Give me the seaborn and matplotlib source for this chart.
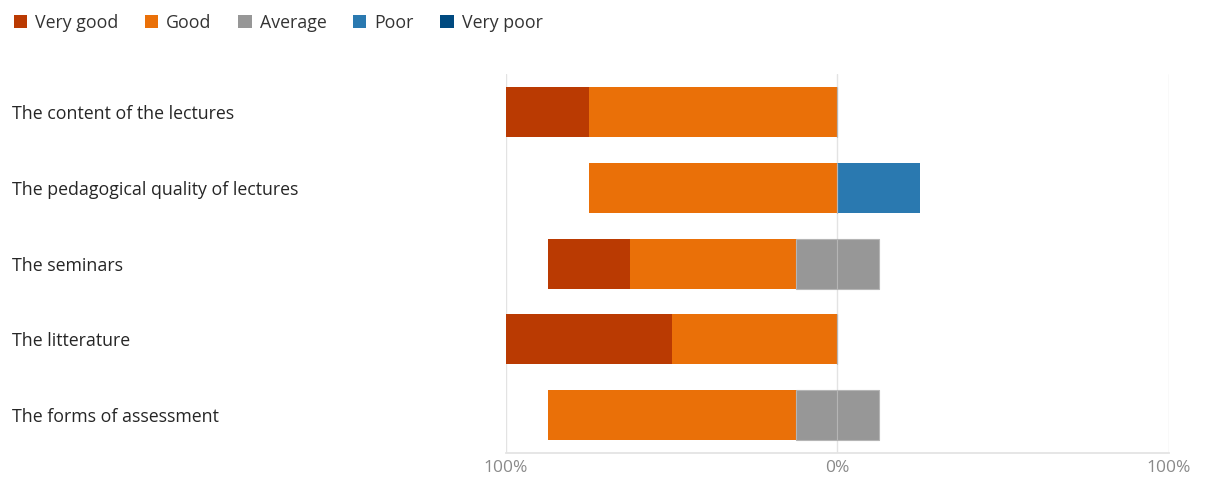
import pandas as pd
import matplotlib.pyplot as plt
import seaborn as sns
from matplotlib.patches import Patch

# Survey answers, percent of respondents per item
items = [
    "The content of the lectures",
    "The pedagogical quality of lectures",
    "The seminars",
    "The litterature",
    "The forms of assessment",
]
very_good = [25, 0, 25, 50, 0]
good = [75, 75, 50, 50, 75]
average = [0, 0, 25, 0, 25]
poor = [0, 25, 0, 0, 0]
very_poor = [0, 0, 0, 0, 0]

categories = ["Very good", "Good", "Average", "Poor", "Very poor"]
colors = ["#BA3A02", "#EA7008", "#979797", "#2A79B0", "#004A80"]
tick_vals = [-100, 0, 100]
tick_labels = ["100%", "0%", "100%"]


def main():
    sns.set_theme(style="white")
    plt.rcParams["font.family"] = ["Open Sans", "DejaVu Sans"]

    df = pd.DataFrame({"item": items, "vg": very_good, "g": good,
                       "a": average, "p": poor, "vp": very_poor})

    # cumulative ends of each segment, diverging around the middle of "Average"
    layers = [
        (-(df.vg + df.g + df.a / 2), colors[0]),
        (-(df.g + df.a / 2), colors[1]),
        (df.a / 2 + df.p + df.vp, colors[4]),
        (df.a / 2 + df.p, colors[3]),
        (-(df.a / 2), colors[2]),
        (df.a / 2, colors[2]),
    ]

    fig = plt.figure(figsize=(12.05, 4.78), dpi=100)
    ax = fig.add_axes([0.42, 0.052, 0.55, 0.793])

    for i, (vals, col) in enumerate(layers):
        tmp = pd.DataFrame({"item": items, "val": vals})
        # the two halves of "Average" get a faint seam at 0
        lw = 0.8 if i >= 4 else 0
        sns.barplot(data=tmp, x="val", y="item", color=col, orient="h",
                    width=0.66, saturation=1, linewidth=lw,
                    edgecolor="#B5B5B5", ax=ax)

    ax.set_xlim(-100, 100)
    ax.set_ylim(4.5, -0.5)
    ax.set_xticks(tick_vals)
    ax.set_xticklabels(tick_labels)
    ax.set_xlabel("")
    ax.set_ylabel("")
    ax.grid(axis="x", color="#E3E3E3", linewidth=1)
    ax.set_axisbelow(True)
    for s in ["top", "left", "right"]:
        ax.spines[s].set_visible(False)
    ax.spines["bottom"].set_color("#E3E3E3")
    ax.tick_params(axis="x", colors="#8A8A8A", labelsize=12.5, length=0, pad=5)
    ax.tick_params(axis="y", length=0, labelsize=12.8, labelcolor="#262626",
                   pad=(506 - 12) * 0.72)
    for lab in ax.get_yticklabels():
        lab.set_horizontalalignment("left")

    handles = [Patch(facecolor=c, edgecolor="none") for c in colors]
    fig.legend(handles, categories, loc="upper left", bbox_to_anchor=(-0.002, 1.005),
               ncol=5, frameon=False, fontsize=12.8, handlelength=0.75,
               handleheight=0.75, handletextpad=0.45, columnspacing=1.5,
               labelcolor="#333333")

    fig.savefig("out.png", dpi=100)
    plt.close(fig)


if __name__ == "__main__":
    main()
